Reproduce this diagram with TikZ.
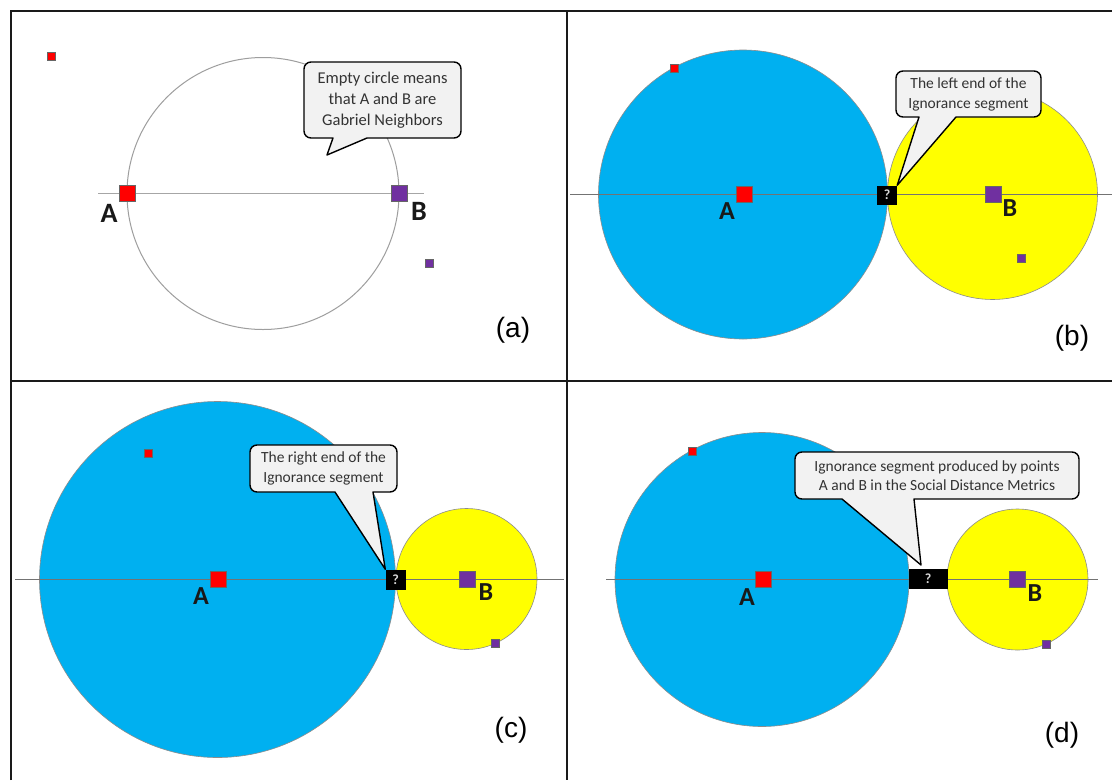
\documentclass[tikz,border=0pt]{standalone}
\usepackage{fontspec}
\setmainfont{Carlito}
\newfontfamily\arialf{Liberation Sans}
\definecolor{cblue}{HTML}{00B0F0}
\definecolor{cyel}{HTML}{FFFF00}
\definecolor{cred}{HTML}{FF0000}
\definecolor{cpur}{HTML}{7030A0}
\definecolor{cbox}{HTML}{F2F2F2}
\definecolor{cframe}{HTML}{1A1A1A}
\tikzset{
  frameline/.style={draw=cframe, line width=2.2pt},
  sqA/.style={draw=black!60, line width=0.4pt, fill=cred, minimum size=16pt, inner sep=0pt},
  sqB/.style={draw=black!60, line width=0.4pt, fill=cpur, minimum size=16pt, inner sep=0pt},
  dotA/.style={draw=black!60, line width=0.3pt, fill=cred, minimum size=7.5pt, inner sep=0pt},
  dotB/.style={draw=black!60, line width=0.3pt, fill=cpur, minimum size=7.5pt, inner sep=0pt},
  lbl/.style={font=\bfseries\fontsize{26}{26}\selectfont, text=black!90, inner sep=0pt},
  lbla/.style={font=\bfseries\fontsize{28}{28}\selectfont, text=black!90, inner sep=0pt},
  plabel/.style={font=\arialf\fontsize{28}{28}\selectfont, inner sep=0pt},
  axisline/.style={draw=black!55, line width=0.8pt},
  axislight/.style={draw=black!35, line width=0.9pt},
  bluecirc/.style={fill=cblue, draw=black!45, line width=0.6pt},
  yelcirc/.style={fill=cyel, draw=black!45, line width=0.6pt},
  balloon/.style={fill=cbox, draw=black, line width=1.4pt, line join=round},
  ctext/.style={font=\fontsize{15.5}{19.5}\selectfont, text=black!80, align=center, inner sep=0pt},
  ctexta/.style={font=\fontsize{16.5}{20.8}\selectfont, text=black!80, align=center, inner sep=0pt},
  qbox/.style={fill=black, text=white!85!black, font=\bfseries\fontsize{14}{14}\selectfont, inner sep=0pt, minimum width=20pt, minimum height=19pt},
}
\begin{document}
\begin{tikzpicture}[x=1pt,y=-1pt]
\useasboundingbox (0,0) rectangle (1112,780);
\fill[white] (0,0) rectangle (1112,780);

% ---------------- panel (a)
\coordinate (la1) at (98,193);
\coordinate (la2) at (424,193);
\draw[axislight] (la1) -- (la2);
\draw[draw=black!38, line width=1pt] (263,193.5) circle[radius=136];
\node[sqA] (Aa) at (127,193) {};
\node[sqB] (Ba) at (399,193) {};
\node[dotA] (da) at (51,56) {};
\node[dotB] (db) at (429,263) {};
\node[lbla] (Aal) at (109,213) {A};
\node[lbla] (Bal) at (419,211) {B};
\coordinate (ta) at (327,155);
\draw[balloon] (333,138) -- (ta) -- (367,138) [rounded corners=7pt] -- (461,138) -- (461,62) -- (304,62) -- (304,138) [sharp corners] -- cycle;
\node[ctexta] (ca) at (382.5,100) {Empty circle means\\that A and B are\\Gabriel Neighbors};
\node[plabel] (pa) at (513,330) {(a)};

% ---------------- panel (b)
\draw[bluecirc] (743,194.5) circle[radius=144.5];
\draw[yelcirc] (992.5,194.5) circle[radius=105];
\coordinate (lb1) at (570,194);
\coordinate (lb2) at (1112,194);
\draw[axisline] (lb1) -- (lb2);
\node[sqA] (Ab) at (744,194) {};
\node[sqB] (Bb) at (993,194) {};
\node[dotA] (dab) at (674,68) {};
\node[dotB] (dbb) at (1021,258) {};
\node[lbl] (Abl) at (727,211) {A};
\node[lbl] (Bbl) at (1010,208) {B};
\node[qbox] (qb) at (887,195) {?};
\draw[balloon] (919,117) -- (qb.north east) -- (956,117) [rounded corners=7pt] -- (1041,117) -- (1041,71) -- (896,71) -- (896,117) [sharp corners] -- cycle;
\node[ctext] (cb) at (968.5,94.5) {The left end of the\\Ignorance segment};
\node[plabel] (pb) at (1072,338) {(b)};

% ---------------- panel (c)
\draw[bluecirc] (217.5,579.5) circle[radius=178];
\draw[yelcirc] (466.5,579) circle[radius=70.5];
\coordinate (lc1) at (15,579);
\coordinate (lc2) at (564,579);
\draw[axisline] (lc1) -- (lc2);
\node[sqA] (Ac) at (218,579) {};
\node[sqB] (Bc) at (467,579) {};
\node[dotA] (dac) at (148,453) {};
\node[dotB] (dbc) at (495,643) {};
\node[lbl] (Acl) at (201,596) {A};
\node[lbl] (Bcl) at (486,592) {B};
\node[qbox, minimum height=20pt] (qc) at (395.5,579.5) {?};
\draw[balloon] (335,492) -- (qc.north west) -- (373,492) [rounded corners=7pt] -- (397,492) -- (397,445) -- (250,445) -- (250,492) [sharp corners] -- cycle;
\node[ctext] (cc) at (323.5,468.5) {The right end of the\\Ignorance segment};
\node[plabel] (pc) at (511,730) {(c)};

% ---------------- panel (d)
\draw[bluecirc] (762,579.5) circle[radius=147];
\draw[yelcirc] (1017.5,579.5) circle[radius=70.5];
\coordinate (ld1) at (606,579);
\coordinate (ld2) at (1098,579);
\draw[axisline] (ld1) -- (ld2);
\node[sqA] (Ad) at (763,579) {};
\node[sqB] (Bd) at (1017,579) {};
\node[dotA] (dad) at (692,451) {};
\node[dotB] (dbd) at (1046,644) {};
\node[lbl] (Adl) at (747,597) {A};
\node[lbl] (Bdl) at (1035,593) {B};
\node[qbox, minimum width=39pt, minimum height=20pt] (qd) at (928,579) {?};
\coordinate (td) at (921,565);
\draw[balloon] (842,499) -- (td) -- (914,499) [rounded corners=7pt] -- (1079,499) -- (1079,452) -- (795,452) -- (795,499) [sharp corners] -- cycle;
\node[ctext] (cd) at (937,475.5) {Ignorance segment produced by points\\A and B in the Social Distance Metrics};
\node[plabel] (pd) at (1062,735) {(d)};

% ---------------- frame
\coordinate (f1) at (11,780);
\coordinate (f2) at (11,11);
\coordinate (f3) at (1112,11);
\coordinate (f4) at (567,11);
\coordinate (f5) at (567,780);
\coordinate (f6) at (11,381);
\coordinate (f7) at (1112,381);
\draw[frameline] (f1) -- (f2) -- (f3);
\draw[frameline] (f4) -- (f5);
\draw[frameline] (f6) -- (f7);
\end{tikzpicture}
\end{document}
